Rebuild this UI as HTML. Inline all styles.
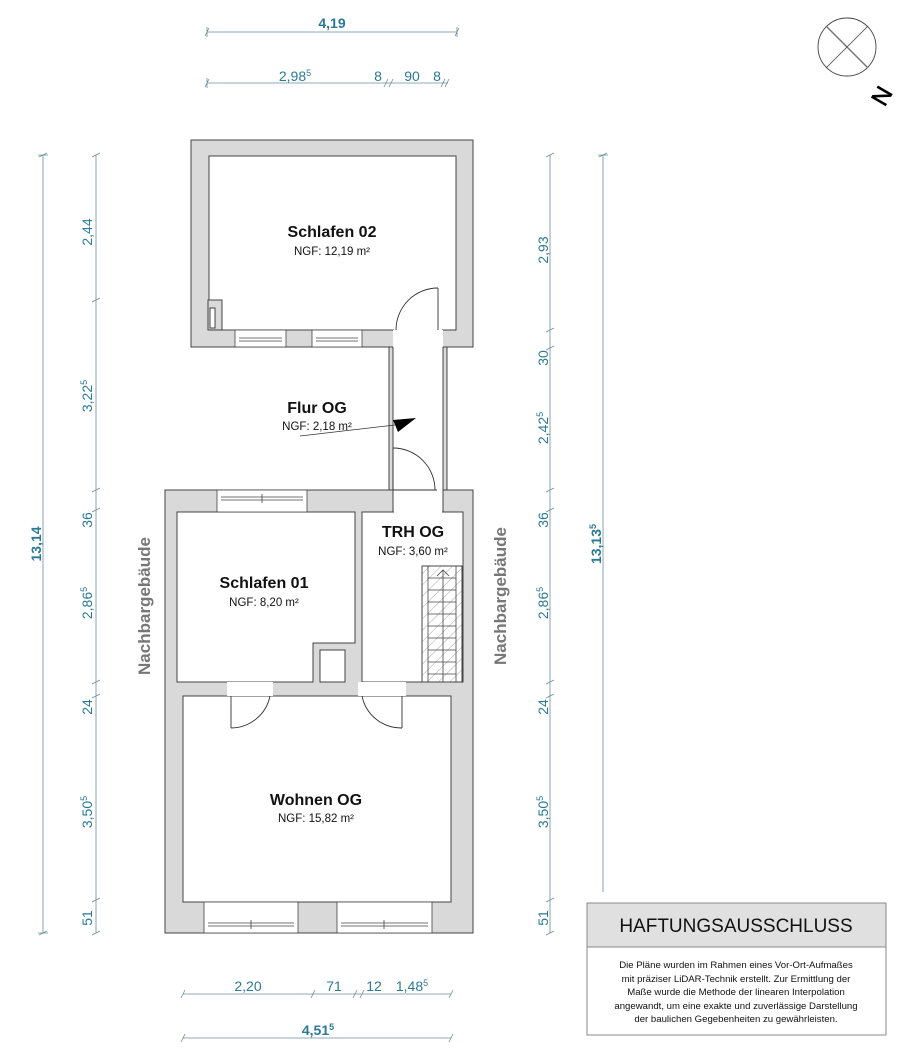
<!DOCTYPE html>
<html><head><meta charset="utf-8"><style>
html,body{margin:0;padding:0;background:#fff;}
svg{display:block;font-family:"Liberation Sans",Arial,sans-serif;}
</style></head><body>
<svg width="913" height="1057" viewBox="0 0 913 1057" xmlns="http://www.w3.org/2000/svg">
<defs>
<pattern id="hatch" width="8" height="8" patternUnits="userSpaceOnUse" patternTransform="rotate(45)">
<line x1="0" y1="0" x2="0" y2="8" stroke="#aaa" stroke-width="1"/>
</pattern>
</defs>
<g stroke="#444" stroke-width="1">
<rect x="191" y="140" width="282" height="207" fill="#d9d9d9"/>
<rect x="389" y="347" width="58" height="143" fill="#d9d9d9"/>
<rect x="165" y="490" width="308" height="443" fill="#d9d9d9"/>
</g>
<g fill="#fff" stroke="#444" stroke-width="1">
<rect x="209" y="156" width="247" height="174"/>
<rect x="393" y="330" width="50" height="182" stroke="none"/>
<line x1="393" y1="347" x2="393" y2="512"/>
<line x1="443" y1="347" x2="443" y2="512"/>
<polygon points="177,512 355,512 355,643 313,643 313,682 177,682"/>
<rect x="362" y="512" width="101" height="170"/>
<rect x="320" y="650" width="25" height="32"/>
<rect x="183" y="696" width="268" height="206"/>
<rect x="227" y="682" width="46" height="14" stroke="none"/>
<rect x="358" y="682" width="48" height="14" stroke="none"/>
</g>
<rect x="394" y="329" width="48" height="3" fill="#fff"/>
<rect x="394" y="511" width="48" height="3" fill="#fff"/>
<rect x="208" y="300" width="14" height="30" fill="#d9d9d9" stroke="#444"/>
<rect x="210" y="308" width="5" height="20" fill="#fff" stroke="#444"/>
<g fill="#fff" stroke="#444" stroke-width="0.8">
<rect x="235" y="330" width="51" height="17"/><line x1="239" y1="338" x2="282" y2="338"/><line x1="239" y1="341" x2="282" y2="341"/>
<rect x="312" y="330" width="50" height="17"/><line x1="316" y1="338" x2="358" y2="338"/><line x1="316" y1="341" x2="358" y2="341"/>
<rect x="217" y="490" width="90" height="22"/><line x1="221" y1="497" x2="303" y2="497"/><line x1="221" y1="500" x2="303" y2="500"/><line x1="262" y1="494" x2="262" y2="503"/>
<rect x="204" y="902" width="94" height="31"/><line x1="208" y1="923" x2="294" y2="923"/><line x1="208" y1="926" x2="294" y2="926"/><line x1="251" y1="920" x2="251" y2="929"/>
<rect x="337" y="902" width="95" height="31"/><line x1="341" y1="923" x2="428" y2="923"/><line x1="341" y1="926" x2="428" y2="926"/><line x1="384" y1="920" x2="384" y2="929"/>
</g>
<g fill="none" stroke="#333" stroke-width="0.9">
<line x1="438" y1="330" x2="438" y2="288"/><path d="M438,288 A42,42 0 0 0 396,330"/>
<line x1="393" y1="490" x2="393" y2="448"/><path d="M393,448 A42,42 0 0 1 435,490"/>
<line x1="393" y1="490" x2="437" y2="490"/>
<line x1="231" y1="696" x2="231" y2="728"/><path d="M231,728 A40,40 0 0 0 270,696"/>
<line x1="402" y1="696" x2="402" y2="728"/><path d="M402,728 A40,40 0 0 1 362,696"/>
</g>
<rect x="422" y="566" width="40" height="116" fill="url(#hatch)" stroke="#444"/>
<g stroke="#444" stroke-width="0.8">
<line x1="428" y1="566" x2="428" y2="682"/><line x1="443" y1="570" x2="443" y2="682"/><line x1="456" y1="566" x2="456" y2="682"/>
<line x1="428" y1="578" x2="456" y2="578"/><line x1="428" y1="590" x2="456" y2="590"/><line x1="428" y1="602" x2="456" y2="602"/>
<line x1="428" y1="614" x2="456" y2="614"/><line x1="428" y1="626" x2="456" y2="626"/><line x1="428" y1="638" x2="456" y2="638"/>
<line x1="428" y1="650" x2="456" y2="650"/><line x1="428" y1="662" x2="456" y2="662"/><line x1="428" y1="674" x2="456" y2="674"/>
<polyline points="437,576 443,570 449,576" fill="none"/>
</g>
<line x1="300" y1="436" x2="395" y2="425" stroke="#333" stroke-width="0.8"/>
<polygon points="393,420 416,418 398,432" fill="#000"/>
<g text-anchor="middle" fill="#111">
<text x="332" y="237" font-size="16" font-weight="bold">Schlafen 02</text>
<text x="332" y="255" font-size="11.5">NGF: 12,19 m²</text>
<text x="317" y="413" font-size="16" font-weight="bold">Flur OG</text>
<text x="317" y="430" font-size="11.5">NGF: 2,18 m²</text>
<text x="413" y="537" font-size="16" font-weight="bold">TRH OG</text>
<text x="413" y="555" font-size="11.5">NGF: 3,60 m²</text>
<text x="264" y="588" font-size="16" font-weight="bold">Schlafen 01</text>
<text x="264" y="606" font-size="11.5">NGF: 8,20 m²</text>
<text x="316" y="805" font-size="16" font-weight="bold">Wohnen OG</text>
<text x="316" y="822" font-size="11.5">NGF: 15,82 m²</text>
</g>
<g fill="#777" font-size="17" font-weight="bold" text-anchor="middle">
<text transform="translate(150,606) rotate(-90)">Nachbargebäude</text>
<text transform="translate(506,596) rotate(-90)">Nachbargebäude</text>
</g>
<g stroke="#6c8c98" stroke-width="0.8" fill="none">
<line x1="207" y1="32" x2="457" y2="32"/>
<line x1="207" y1="83" x2="448" y2="83"/>
<line x1="43" y1="155" x2="43" y2="933"/>
<line x1="96" y1="155" x2="96" y2="933"/>
<line x1="550" y1="155" x2="550" y2="933"/>
<line x1="603" y1="155" x2="603" y2="892"/>
<line x1="183" y1="994" x2="451" y2="994"/>
<line x1="183" y1="1038" x2="451" y2="1038"/>
</g>
<g stroke="#6c8c98" stroke-width="0.8">
<path d="M205,36 l4,-8 M207,27 v10 M455,36 l4,-8 M457,27 v10"/>
<path d="M205,87 l4,-8 M207,78 v10 M384,87 l4,-8 M389,87 l4,-8 M441,87 l4,-8 M445,87 l4,-8"/>
<path d="M39,157 l8,-4 M39,935 l8,-4 M38,155 h10 M38,933 h10"/>
<path d="M92,157 l8,-4 M92,302 l8,-4 M92,492 l8,-4 M92,512 l8,-4 M92,684 l8,-4 M92,698 l8,-4 M92,902 l8,-4 M92,935 l8,-4"/>
<path d="M546,157 l8,-4 M546,332 l8,-4 M546,350 l8,-4 M546,492 l8,-4 M546,512 l8,-4 M546,684 l8,-4 M546,698 l8,-4 M546,902 l8,-4 M546,935 l8,-4"/>
<path d="M599,157 l8,-4 M598,155 h10"/>
<path d="M181,998 l4,-8 M311,998 l4,-8 M353,998 l4,-8 M360,998 l4,-8 M449,998 l4,-8"/>
<path d="M181,1042 l4,-8 M449,1042 l4,-8"/>
</g>
<g fill="#2b7a95" font-size="14">
<text x="332" y="28" font-weight="bold" text-anchor="middle">4,19</text>
<text x="295" y="81" text-anchor="middle">2,98<tspan font-size="9" dy="-5">5</tspan></text>
<text x="378" y="81" text-anchor="middle">8</text>
<text x="412" y="81" text-anchor="middle">90</text>
<text x="437" y="81" text-anchor="middle">8</text>
<text x="248" y="991" text-anchor="middle">2,20</text>
<text x="334" y="991" text-anchor="middle">71</text>
<text x="374" y="991" text-anchor="middle">12</text>
<text x="412" y="991" text-anchor="middle">1,48<tspan font-size="9" dy="-5">5</tspan></text>
<text x="318" y="1035" font-weight="bold" text-anchor="middle">4,51<tspan font-size="9" dy="-5">5</tspan></text>
<g text-anchor="middle">
<text transform="translate(41,544) rotate(-90)" font-weight="bold">13,14</text>
<text transform="translate(92,232) rotate(-90)">2,44</text>
<text transform="translate(92,396) rotate(-90)">3,22<tspan font-size="9" dy="-5">5</tspan></text>
<text transform="translate(92,520) rotate(-90)">36</text>
<text transform="translate(92,603) rotate(-90)">2,86<tspan font-size="9" dy="-5">5</tspan></text>
<text transform="translate(92,707) rotate(-90)">24</text>
<text transform="translate(92,812) rotate(-90)">3,50<tspan font-size="9" dy="-5">5</tspan></text>
<text transform="translate(92,918) rotate(-90)">51</text>
<text transform="translate(548,250) rotate(-90)">2,93</text>
<text transform="translate(548,358) rotate(-90)">30</text>
<text transform="translate(548,428) rotate(-90)">2,42<tspan font-size="9" dy="-5">5</tspan></text>
<text transform="translate(548,520) rotate(-90)">36</text>
<text transform="translate(548,603) rotate(-90)">2,86<tspan font-size="9" dy="-5">5</tspan></text>
<text transform="translate(548,707) rotate(-90)">24</text>
<text transform="translate(548,812) rotate(-90)">3,50<tspan font-size="9" dy="-5">5</tspan></text>
<text transform="translate(548,918) rotate(-90)">51</text>
<text transform="translate(601,544) rotate(-90)" font-weight="bold">13,13<tspan font-size="9" dy="-5">5</tspan></text>
</g>
</g>
<circle cx="847" cy="47" r="29" fill="none" stroke="#444" stroke-width="0.9"/>
<line x1="826" y1="26" x2="868" y2="68" stroke="#777" stroke-width="1.5"/>
<line x1="868" y1="26" x2="826" y2="68" stroke="#444" stroke-width="0.8"/>
<text transform="translate(889,100) rotate(-60)" font-size="24" text-anchor="middle" fill="#000" stroke="#000" stroke-width="0.6">N</text>
<rect x="587" y="903" width="299" height="132" fill="#fff" stroke="#888"/>
<rect x="587" y="903" width="299" height="44" fill="#e0e0e0" stroke="#888"/>
<text x="736" y="932" font-size="19" text-anchor="middle" fill="#111">HAFTUNGSAUSSCHLUSS</text>
<g font-size="9.6" text-anchor="middle" fill="#111">
<text x="736" y="968">Die Pläne wurden im Rahmen eines Vor-Ort-Aufmaßes</text>
<text x="736" y="982">mit präziser LiDAR-Technik erstellt. Zur Ermittlung der</text>
<text x="736" y="995">Maße wurde die Methode der linearen Interpolation</text>
<text x="736" y="1009">angewandt, um eine exakte und zuverlässige Darstellung</text>
<text x="736" y="1022">der baulichen Gegebenheiten zu gewährleisten.</text>
</g>
</svg>
</body></html>
